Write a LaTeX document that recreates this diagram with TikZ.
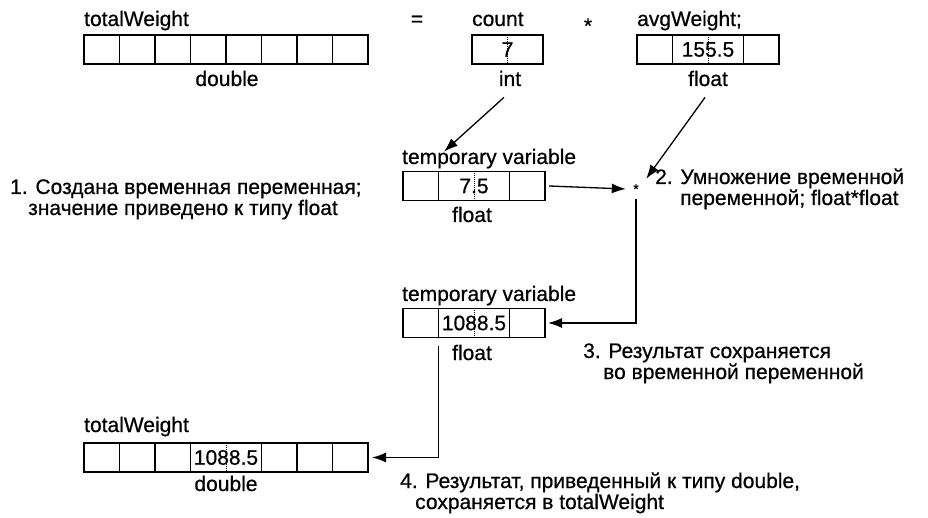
\documentclass[tikz,border=0pt]{standalone}
\usepackage{fontspec}
\setmainfont{Liberation Sans}[FakeBold=0.6]
\usetikzlibrary{arrows.meta,positioning,calc}

\newcommand{\lblsize}{\fontsize{21}{21}\selectfont}

\begin{document}
\begin{tikzpicture}[x=1pt, y=-1pt,
    cell/.style={rectangle, draw, minimum width=35.5pt, minimum height=29pt,
                 inner sep=0pt, outer sep=0pt, line width=1.2pt},
    vcell/.style={cell, minimum width=71pt, font=\lblsize},
    divider/.style={densely dotted, line width=0.9pt},
    lbl/.style={inner sep=0pt, font=\lblsize},
    note/.style={inner sep=0pt, font=\lblsize, align=left, anchor=base west},
    flow/.style={-{Latex[length=14pt,width=10pt]}, line width=1.3pt}
  ]
  \useasboundingbox (0,0) rectangle (928,518);

  % statement
  \node[lbl, anchor=base west] (twlab) at (84,26) {totalWeight};
  \node[lbl, anchor=base] (eq) at (417,26) {=};
  \node[lbl, anchor=base west] (cntlab) at (472,26) {count};
  \node[lbl, anchor=base] (times) at (588,33) {*};
  \node[lbl, anchor=base west] (awlab) at (637,26) {avgWeight;};

  % totalWeight (double)
  \node[cell] (tw1) at (101.75,49.5) {};
  \foreach \i [remember=\i as \j (initially 1)] in {2,...,8}
    \node[cell, right=0pt of tw\j] (tw\i) {};
  \node[lbl, anchor=base] (twtype) at (227,86) {double};

  % count (int)
  \node[vcell] (cnt) at (507.5,49.5) {7};
  \draw[divider] (cnt.north) -- (cnt.south);
  \node[lbl, anchor=base] (cnttype) at (510,86) {int};

  % avgWeight (float)
  \node[cell] (aw1) at (654.75,49.5) {};
  \node[vcell, right=0pt of aw1] (aw2) {155.5};
  \node[cell, right=0pt of aw2] (aw3) {};
  \draw[divider] (aw2.north) -- (aw2.south);
  \node[lbl, anchor=base] (awtype) at (708,86) {float};

  % temporary variable for count
  \node[lbl, anchor=base west] (tv1lab) at (402,164) {temporary variable};
  \node[cell] (ta1) at (420.75,186) {};
  \node[vcell, right=0pt of ta1] (ta2) {7.5};
  \node[cell, right=0pt of ta2] (ta3) {};
  \draw[divider] (ta2.north) -- (ta2.south);
  \node[lbl, anchor=base] (tv1type) at (472,222) {float};

  % multiplication
  \node[minimum size=20pt, inner sep=0pt, font=\fontsize{14}{14}\selectfont] (mul) at (636,189) {*};

  % temporary variable for the product
  \node[lbl, anchor=base west] (tv2lab) at (402,301) {temporary variable};
  \node[cell] (tb1) at (420.75,323) {};
  \node[vcell, right=0pt of tb1] (tb2) {1088.5};
  \node[cell, right=0pt of tb2] (tb3) {};
  \draw[divider] (tb2.north) -- (tb2.south);
  \node[lbl, anchor=base] (tv2type) at (472,360) {float};

  % totalWeight after assignment
  \node[lbl, anchor=base west] (rwlab) at (84,432) {totalWeight};
  \node[cell] (rw1) at (101.75,457.5) {};
  \node[cell, right=0pt of rw1] (rw2) {};
  \node[cell, right=0pt of rw2] (rw3) {};
  \node[vcell, right=0pt of rw3] (rw4) {1088.5};
  \foreach \i [remember=\i as \j (initially 4)] in {5,6,7}
    \node[cell, right=0pt of rw\j] (rw\i) {};
  \draw[divider] (rw4.north) -- (rw4.south);
  \node[lbl, anchor=base] (rwtype) at (226,491) {double};

  % notes
  \node[note] (n1) at (10,215) {1. Создана временная переменная;\\\hspace*{18pt}значение приведено к типу float};
  \node[note] (n2) at (655,205) {2. Умножение временной\\\hspace*{25pt}переменной; float*float};
  \node[note] (n3) at (583,379) {3. Результат сохраняется\\\hspace*{20pt}во временной переменной};
  \node[note] (n4) at (400,509) {4. Результат, приведенный к типу double,\\\hspace*{15pt}сохраняется в totalWeight};

  % connectors
  \draw[flow] ($(cnttype.south)+(-6,11)$) -- ($(tv1lab.north west)+(42,3)$);
  \draw[flow] ($(awtype.south)+(-3,11)$) -- (mul.north east);
  \draw[flow] ($(ta3.east)+(4,0)$) -- (mul.west);
  \draw[flow] (mul.south) |- ($(tb3.east)+(3,0)$);
  \draw[flow] ($(tb1.south east)+(0,8)$) |- ($(rw7.east)+(4,0)$);
\end{tikzpicture}
\end{document}
